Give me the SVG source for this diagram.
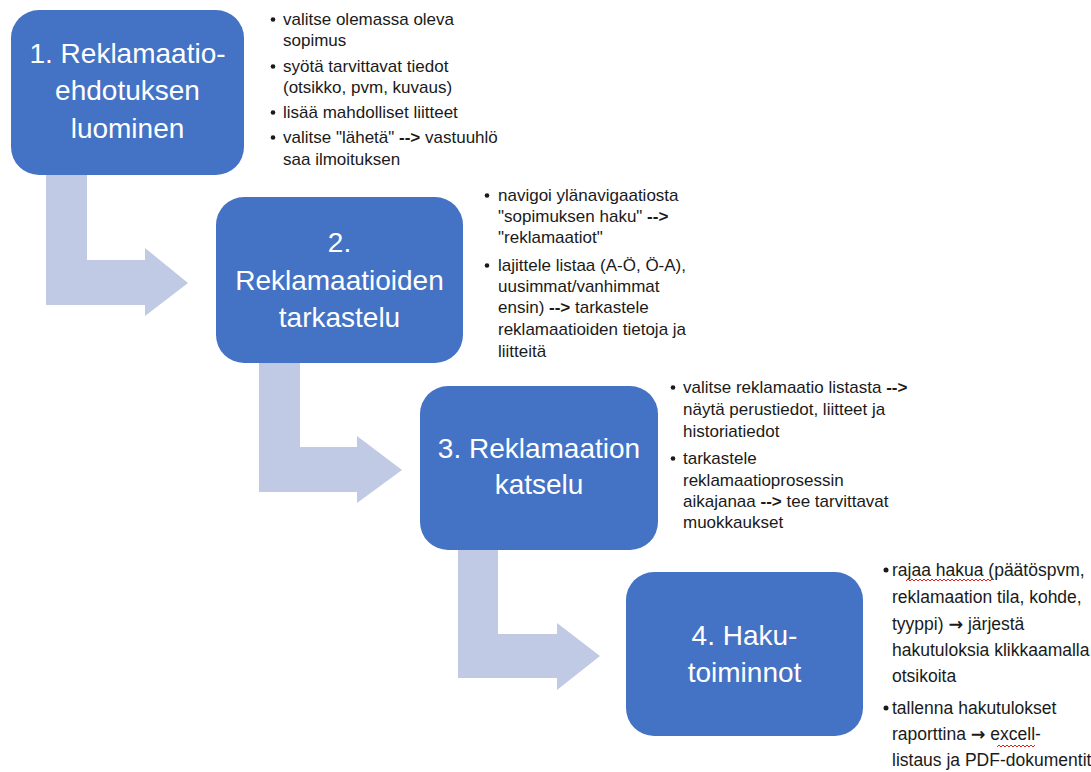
<svg xmlns="http://www.w3.org/2000/svg" width="1091" height="772" viewBox="0 0 1091 772">
  <style>
    .box { fill: #4472C4; }
    .flow { fill: #C0CAE4; }
    .title { font-family: "Liberation Sans", Arial, sans-serif; font-size: 28px; fill: #FFFFFF; text-anchor: middle; }
    .note { font-family: "Liberation Sans", Arial, sans-serif; font-size: 17px; fill: #1A1A1A; }
    .note4 { font-family: "Liberation Sans", Arial, sans-serif; font-size: 17.5px; fill: #1A1A1A; }
    .b { font-weight: bold; }
    .dot { fill: #1A1A1A; }
    .squiggle { fill: none; stroke: #E0201B; stroke-width: 1; }
  </style>

  <rect width="1091" height="772" fill="#FFFFFF"/>

  <!-- bent arrows leading from each step to the next -->
  <g id="connectors">
    <path class="flow" d="M46,175 H87 V260 H145 V248 L188,283 L145,316 V305 H46 Z"/>
    <path class="flow" d="M259,363 H300 V447 H357 V436 L402,470 L357,503 V492 H259 Z"/>
    <path class="flow" d="M458,550 H498 V634 H557 V623 L600,656 L557,690 V678 H458 Z"/>
  </g>

  <!-- step 1 -->
  <g id="step1">
    <rect class="box" x="11" y="10" width="233" height="165" rx="28"/>
    <text class="title" x="127.5" y="63">1. Reklamaatio-</text>
    <text class="title" x="127.5" y="100">ehdotuksen</text>
    <text class="title" x="127.5" y="138">luominen</text>
  </g>
  <g id="notes1" class="note">
    <circle class="dot" cx="273" cy="19.5" r="2.3"/>
    <text x="283" y="25">valitse olemassa oleva</text>
    <text x="283" y="46">sopimus</text>
    <circle class="dot" cx="273" cy="66.5" r="2.3"/>
    <text x="283" y="72">syötä tarvittavat tiedot</text>
    <text x="283" y="93">(otsikko, pvm, kuvaus)</text>
    <circle class="dot" cx="273" cy="112.5" r="2.3"/>
    <text x="283" y="118">lisää mahdolliset liitteet</text>
    <circle class="dot" cx="273" cy="137.5" r="2.3"/>
    <text x="283" y="143">valitse "lähetä" <tspan class="b">--&gt;</tspan> vastuuhlö</text>
    <text x="283" y="165">saa ilmoituksen</text>
  </g>

  <!-- step 2 -->
  <g id="step2">
    <rect class="box" x="216" y="197" width="247" height="166" rx="28"/>
    <text class="title" x="339.5" y="252">2.</text>
    <text class="title" x="339.5" y="290">Reklamaatioiden</text>
    <text class="title" x="339.5" y="327">tarkastelu</text>
  </g>
  <g id="notes2" class="note">
    <circle class="dot" cx="487" cy="195.5" r="2.3"/>
    <text x="498" y="201">navigoi ylänavigaatiosta</text>
    <text x="498" y="222">"sopimuksen haku" <tspan class="b">--&gt;</tspan></text>
    <text x="498" y="243">"reklamaatiot"</text>
    <circle class="dot" cx="487" cy="265.5" r="2.3"/>
    <text x="498" y="271">lajittele listaa (A-Ö, Ö-A),</text>
    <text x="498" y="292">uusimmat/vanhimmat</text>
    <text x="498" y="313">ensin) <tspan class="b">--&gt;</tspan> tarkastele</text>
    <text x="498" y="335">reklamaatioiden tietoja ja</text>
    <text x="498" y="357">liitteitä</text>
  </g>

  <!-- step 3 -->
  <g id="step3">
    <rect class="box" x="420" y="386" width="238" height="164" rx="28"/>
    <text class="title" x="539" y="458">3. Reklamaation</text>
    <text class="title" x="539" y="494">katselu</text>
  </g>
  <g id="notes3" class="note">
    <circle class="dot" cx="673" cy="387.5" r="2.3"/>
    <text x="683" y="393">valitse reklamaatio listasta <tspan class="b">--&gt;</tspan></text>
    <text x="683" y="415">näytä perustiedot, liitteet ja</text>
    <text x="683" y="437">historiatiedot</text>
    <circle class="dot" cx="673" cy="458.5" r="2.3"/>
    <text x="683" y="464">tarkastele</text>
    <text x="683" y="486">reklamaatioprosessin</text>
    <text x="683" y="507">aikajanaa <tspan class="b">--&gt;</tspan> tee tarvittavat</text>
    <text x="683" y="528">muokkaukset</text>
  </g>

  <!-- step 4 -->
  <g id="step4">
    <rect class="box" x="626" y="572" width="237" height="164" rx="28"/>
    <text class="title" x="744.5" y="645">4. Haku-</text>
    <text class="title" x="744.5" y="682">toiminnot</text>
  </g>
  <g id="notes4" class="note4">
    <circle class="dot" cx="886" cy="570" r="2.5"/>
    <text x="892" y="576">rajaa hakua (päätöspvm,</text>
    <path class="squiggle" d="M906,581 l2,-2 l2,2 l2,-2 l2,2 l2,-2 l2,2 l2,-2 l2,2 l2,-2 l2,2 l2,-2 l2,2 l2,-2 l2,2 l2,-2 l2,2 l2,-2 l2,2 l2,-2 l2,2 l2,-2 l2,2 l2,-2 l2,2 l2,-2 l2,2 l2,-2 l2,2 l2,-2 l2,2 l2,-2 l2,2 l2,-2 l2,2 l2,-2 l2,2 l2,-2 l2,2 l2,-2 l2,2 l2,-2 l2,2 l2,-2"/>
    <text x="892" y="603">reklamaation tila, kohde,</text>
    <text x="892" y="630">tyyppi) <tspan class="b" font-family="'DejaVu Sans', sans-serif">→</tspan> järjestä</text>
    <text x="892" y="656">hakutuloksia klikkaamalla</text>
    <text x="892" y="682">otsikoita</text>
    <circle class="dot" cx="886" cy="708" r="2.5"/>
    <text x="892" y="714">tallenna hakutulokset</text>
    <text x="892" y="740">raporttina <tspan class="b" font-family="'DejaVu Sans', sans-serif">→</tspan> excell-</text>
    <path class="squiggle" d="M997,747 l2,-2 l2,2 l2,-2 l2,2 l2,-2 l2,2 l2,-2 l2,2 l2,-2 l2,2 l2,-2 l2,2 l2,-2 l2,2 l2,-2 l2,2 l2,-2 l2,2 l2,-2"/>
    <text x="892" y="766">listaus ja PDF-dokumentit</text>
  </g>
</svg>
